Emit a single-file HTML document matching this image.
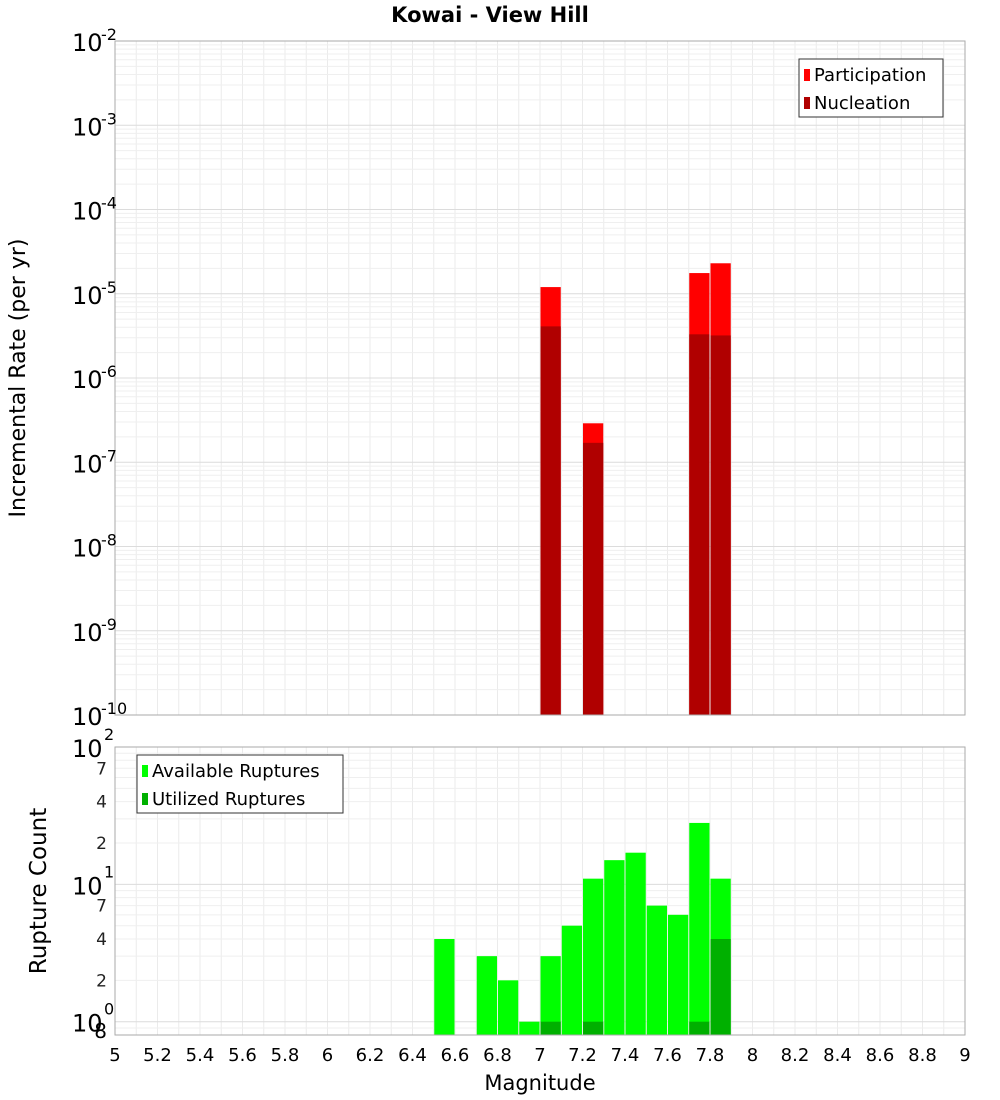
<!DOCTYPE html>
<html><head><meta charset="utf-8"><style>
body{margin:0;background:#fff;font-family:"DejaVu Sans","Liberation Sans",sans-serif}
svg{display:block}
</style></head><body>
<svg id="c" width="1000" height="1100" xmlns="http://www.w3.org/2000/svg"></svg>
<script>
const mags=[6.55,6.75,6.85,6.95,7.05,7.15,7.25,7.35,7.45,7.55,7.65,7.75,7.85];
const available=[4,3,2,1,3,5,11,15,17,7,6,28,11];
const utilizedMags=[7.05,7.25,7.75,7.85];
const utilized=[1,1,1,4];
const rateMags=[7.05,7.25,7.75,7.85];
const participation=[1.2e-5,2.9e-7,1.76e-5,2.3e-5];
const nucleation=[4.1e-6,1.7e-7,3.3e-6,3.2e-6];
const xTicks=[5,5.2,5.4,5.6,5.8,6,6.2,6.4,6.6,6.8,7,7.2,7.4,7.6,7.8,8,8.2,8.4,8.6,8.8,9];
const xTickLabels=["5","5.2","5.4","5.6","5.8","6","6.2","6.4","6.6","6.8","7","7.2","7.4","7.6","7.8","8","8.2","8.4","8.6","8.8","9"];
const topExps=[-2,-3,-4,-5,-6,-7,-8,-9,-10];
const botTicks=[100,70,40,20,10,7,4,2,1,0.8];
const botTickLabels=["","7","4","2","","7","4","2","","8"];

const svg=document.getElementById('c');
const NS='http://www.w3.org/2000/svg';
function el(t,a,p){const e=document.createElementNS(NS,t);for(const k in a)e.setAttribute(k,a[k]);(p||svg).appendChild(e);return e;}
const X0=115,X1=965;
const x=m=>X0+(m-5)/4*(X1-X0);
const T0=41,T1=715;
const yTop=v=>T0+(-2-Math.log10(v))/8*(T1-T0);
const B0=747,B1=1035,BMIN=Math.log10(0.8);
const yBot=v=>B1-(Math.log10(v)-BMIN)/(2-BMIN)*(B1-B0);

let t=el('text',{x:490,y:22,'text-anchor':'middle','font-size':21,'font-weight':'bold'});t.textContent='Kowai - View Hill';


function grid(y0,y1,yf,lo,hi){
  const g=el('g',{});
  for(let m=5;m<=9.001;m+=0.1){el('line',{x1:x(m),x2:x(m),y1:y0,y2:y1,stroke:'#ebebeb','stroke-width':1},g);}
  for(let e=lo;e<hi;e++)for(let k=1;k<10;k++){const v=k*Math.pow(10,e);const yy=yf(v);if(yy<y0-0.5||yy>y1+0.5)continue;
    el('line',{x1:X0,x2:X1,y1:yy,y2:yy,stroke:k==1?'#dcdcdc':'#efefef','stroke-width':1},g);}
  return g;
}
const g1=grid(T0,T1,yTop,-10,-2);
const g2=grid(B0,B1,yBot,-1,2);

const bw=(X1-X0)/40;
rateMags.forEach((m,i)=>{
  const r=el('rect',{x:x(m)-bw/2+0.5,y:yTop(participation[i]),width:bw-1,height:T1-yTop(participation[i]),fill:'#ff0000'});
  
  const n=el('rect',{x:x(m)-bw/2+0.5,y:yTop(nucleation[i]),width:bw-1,height:T1-yTop(nucleation[i]),fill:'#b00000'});
  
});
mags.forEach((m,i)=>{
  const r=el('rect',{x:x(m)-bw/2+0.5,y:yBot(available[i]),width:bw-1,height:B1-yBot(available[i]),fill:'#00ff00'});
  
});
utilizedMags.forEach((m,i)=>{
  const r=el('rect',{x:x(m)-bw/2+0.5,y:yBot(utilized[i]),width:bw-1,height:B1-yBot(utilized[i]),fill:'#00b000'});
  
});
el('rect',{x:X0,y:T0,width:X1-X0,height:T1-T0,fill:'none',stroke:'#aaa'});
el('rect',{x:X0,y:B0,width:X1-X0,height:B1-B0,fill:'none',stroke:'#aaa'});

topExps.forEach(e=>{
  const yy=yTop(Math.pow(10,e));
  const tx=el('text',{x:72,y:yy+10,'font-size':24});tx.textContent='10';
  
  const s=el('text',{x:101,y:yy-1,'font-size':16});s.textContent=String(e);
  
});
[[100,'2'],[10,'1'],[1,'0']].forEach(([v,e])=>{
  const yy=yBot(v);
  const tx=el('text',{x:72,y:yy+10,'font-size':24});tx.textContent='10';
  
  const s=el('text',{x:104,y:yy-7,'font-size':16});s.textContent=e;
  
});
botTicks.forEach((v,i)=>{if(!botTickLabels[i])return;
  const s=el('text',{x:107,y:yBot(v)+6,'font-size':17,'text-anchor':'end',fill:botTickLabels[i]=='8'?'#000':'#222'});s.textContent=botTickLabels[i];
  if(botTickLabels[i]=='8'){s.setAttribute('font-size',20);s.setAttribute('y',yBot(v)+3);}
  
});
xTicks.forEach((m,i)=>{
  const s=el('text',{x:x(m),y:1061,'font-size':18,'text-anchor':'middle'});s.textContent=xTickLabels[i];
  
});
t=el('text',{x:540,y:1090,'font-size':21,'text-anchor':'middle'});t.textContent='Magnitude';

t=el('text',{x:0,y:0,'font-size':22,'text-anchor':'middle',transform:'translate(25,378) rotate(-90)'});t.textContent='Incremental Rate (per yr)';

t=el('text',{x:0,y:0,'font-size':23,'text-anchor':'middle',transform:'translate(46,891) rotate(-90)'});t.textContent='Rupture Count';


function legend(x0,y0,w,items,name){
  const g=el('g',{});
  el('rect',{x:x0,y:y0,width:w,height:58,fill:'#fff',stroke:'#333'},g);
  items.forEach(([c,l],i)=>{
    el('rect',{x:x0+5,y:y0+10+i*28,width:6,height:12,fill:c},g);
    const s=el('text',{x:x0+15,y:y0+22+i*28,'font-size':18},g);s.textContent=l;
    
  });
}
legend(799,59,144,[['#ff0000','Participation'],['#b00000','Nucleation']],'top-legend');
legend(137,755,206,[['#00ff00','Available Ruptures'],['#00b000','Utilized Ruptures']],'bottom-legend');
</script>
</body></html>
